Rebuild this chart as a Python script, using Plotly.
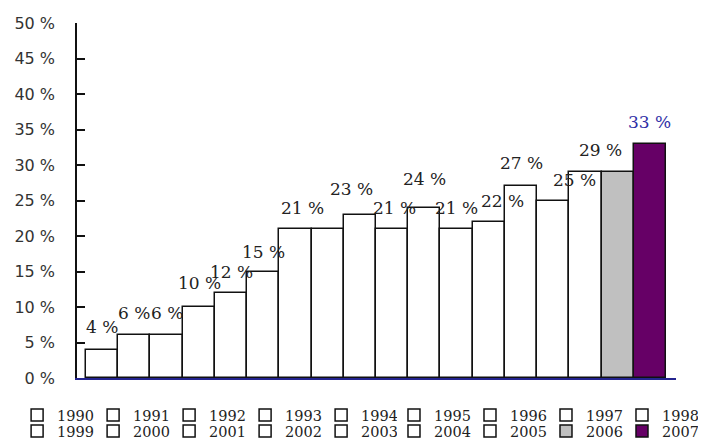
import plotly.graph_objects as go

# Share per year (%)
years = [1990, 1991, 1992, 1993, 1994, 1995, 1996, 1997, 1998,
         1999, 2000, 2001, 2002, 2003, 2004, 2005, 2006, 2007]
values = [4, 6, 6, 10, 12, 15, 21, 21, 23,
          21, 24, 21, 22, 27, 25, 29, 29, 33]
# which bars carry a value label
labelled = [True, True, True, True, True, True, True, False, True,
            True, True, True, True, True, True, True, False, True]
y_ticks = [0, 5, 10, 15, 20, 25, 30, 35, 40, 45, 50]

fills = {2006: "#c0c0c0", 2007: "#660066"}
# label nudges (px) to keep the texts apart
label_dx = {1993: 1, 1996: 7, 1998: -8, 1999: 2, 2002: 14, 2004: 21, 2005: 15}
label_dy = {1990: 23, 1991: 22, 1992: 22, 1993: 24, 1994: 21, 1995: 20,
            1996: 21, 1998: 26, 1999: 21, 2000: 29, 2001: 21, 2002: 21,
            2003: 23, 2004: 21, 2005: 22, 2007: 22}


def legend_id(i):
    # two legend rows of nine entries, each row split in two blocks
    row, col = divmod(i, 9)
    block = 0 if col < 5 else 1
    n = 1 + row * 2 + block
    return "legend" if n == 1 else f"legend{n}"


fig = go.Figure()
for i, (yr, v) in enumerate(zip(years, values)):
    fig.add_trace(go.Bar(
        x=[yr], y=[v], width=1, name=str(yr),
        marker=dict(color=fills.get(yr, "#ffffff"),
                    line=dict(color="#111111", width=1.5)),
        legend=legend_id(i),
        hoverinfo="name+y",
    ))

for yr, v, show in zip(years, values, labelled):
    if not show:
        continue
    fig.add_annotation(
        x=yr, y=v, text=f"{v:.0f} %", showarrow=False,
        xanchor="center", yanchor="middle",
        xshift=label_dx.get(yr, 0), yshift=label_dy.get(yr, 22),
        font=dict(family="DejaVu Serif", size=17,
                  color="#2e2ea6" if yr == 2007 else "#222222"),
    )

legend_style = dict(
    orientation="h", xanchor="left", yanchor="middle",
    entrywidth=31, entrywidthmode="pixels",
    font=dict(family="DejaVu Serif", size=14.5, color="#222222"),
    bgcolor="rgba(0,0,0,0)", borderwidth=0, itemclick=False,
    itemdoubleclick=False,
)
row_y = [-0.1046, -0.1496]
block_x = [-0.1, 0.5292]

fig.update_layout(
    width=703, height=441,
    margin=dict(l=77, r=27, t=23, b=63, autoexpand=False),
    plot_bgcolor="#ffffff", paper_bgcolor="#ffffff",
    barmode="overlay", bargap=0,
    showlegend=True,
    legend=dict(x=block_x[0], y=row_y[0], **legend_style),
    legend2=dict(x=block_x[1], y=row_y[0], **legend_style),
    legend3=dict(x=block_x[0], y=row_y[1], **legend_style),
    legend4=dict(x=block_x[1], y=row_y[1], **legend_style),
    xaxis=dict(range=[1989.22, 2007.81], showticklabels=False, ticks="",
               showgrid=False, zeroline=False, showline=True,
               linecolor="#24248f", linewidth=1.5, fixedrange=True),
    yaxis=dict(range=[0, 50], tickvals=y_ticks,
               ticktext=[f"{t} %" for t in y_ticks],
               ticks="inside", ticklen=8, tickwidth=1.5, tickcolor="#111111",
               showgrid=False, zeroline=False, showline=True,
               linecolor="#111111", linewidth=1.5,
               ticklabelstandoff=17,
               tickfont=dict(family="DejaVu Sans", size=16, color="#333333"),
               fixedrange=True),
)

fig.write_html("out.html")
